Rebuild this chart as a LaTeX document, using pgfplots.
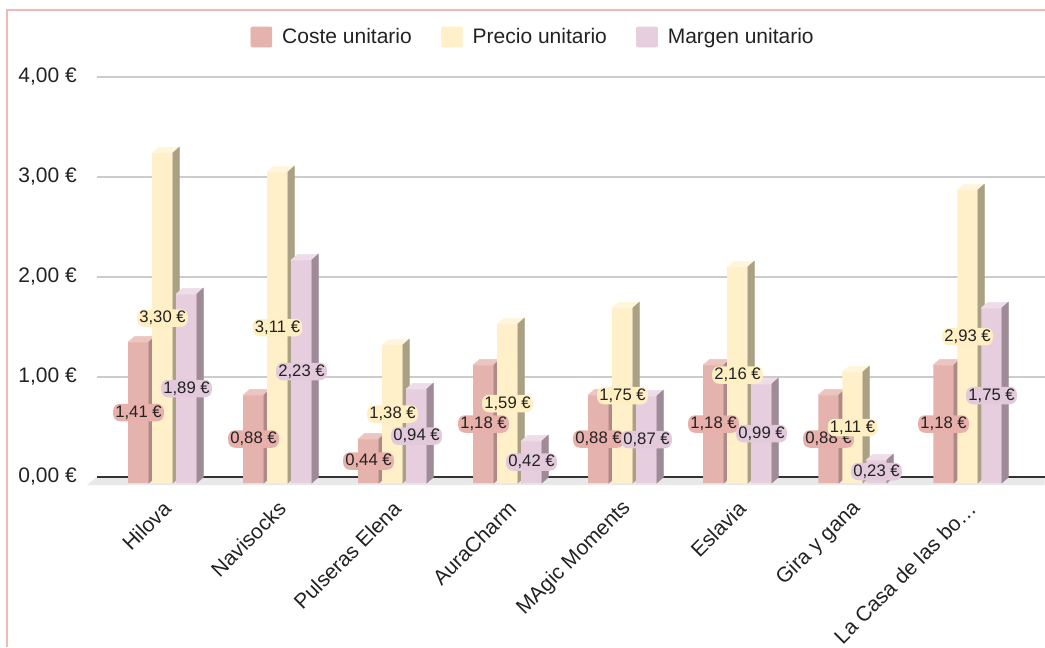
\documentclass[border=0pt]{standalone}
\usepackage{pgfplots}
\usepackage{pgfplotstable}
\pgfplotsset{compat=1.18}
\usepackage{fontspec}
\setmainfont{Liberation Sans}

% series colours: front face, side face, top face, label halo
\definecolor{costeF}{HTML}{E5B3AE}
\definecolor{costeS}{HTML}{B08986}
\definecolor{costeT}{HTML}{EDC5C0}
\definecolor{costeH}{HTML}{E8B0AB}
\definecolor{precioF}{HTML}{FFF0C9}
\definecolor{precioS}{HTML}{AAA084}
\definecolor{precioT}{HTML}{FFF5DA}
\definecolor{precioH}{HTML}{FFEFC2}
\definecolor{margenF}{HTML}{E6CEDF}
\definecolor{margenS}{HTML}{9E8B97}
\definecolor{margenT}{HTML}{EEDCE8}
\definecolor{margenH}{HTML}{E2CADC}
\definecolor{gridc}{HTML}{CCCCCC}
\definecolor{floorc}{HTML}{E8E8E8}
\definecolor{basec}{HTML}{333333}
\definecolor{framec}{HTML}{EFBAB5}
\definecolor{txt}{HTML}{222222}

\newcommand\labfont{\fontsize{12.5}{14}\selectfont}
\newcommand\bigfont{\fontsize{15.75}{18}\selectfont}

\pgfdeclareplotmark{empty}{}

\pgfplotstableread{
i c p m
0 1.41 3.30 1.89
1 0.88 3.11 2.23
2 0.44 1.38 0.94
3 1.18 1.59 0.42
4 0.88 1.75 0.87
5 1.18 2.16 0.99
6 0.88 1.11 0.23
7 1.18 2.93 1.75
}\costes

\pgfplotsset{
  % front face of a bar
  front/.style n args={2}{ybar, bar width=15.4pt, bar shift=#2, fill=#1, draw=none, forget plot},
  % side and top faces: #1 side colour, #2 top colour, #3 shift
  faces/.style n args={3}{forget plot, only marks, scatter, mark=empty,
    visualization depends on={rawy \as \val},
    scatter/@pre marker code/.code={%
      \pgfmathsetlengthmacro\hh{\val*75pt}%
      \fill[#2] ({#3-7.7pt},0pt) -- ({#3+7.7pt},0pt) -- ({#3+12.6pt},4.3pt) -- ({#3-2.8pt},4.3pt) -- cycle;
      \fill[#1] ({#3+7.7pt},0pt) -- ({#3+12.6pt},4.3pt) -- ({#3+12.6pt},{4.3pt-\hh}) -- ({#3+7.7pt},-\hh) -- cycle;
    },
    scatter/@post marker code/.code={}},
  % value labels in the middle of the front face, on a soft coloured halo
  labels/.style n args={2}{forget plot, only marks, scatter, mark=empty,
    visualization depends on={rawy \as \val},
    scatter/@pre marker code/.code={%
      \pgfmathsetlengthmacro\hh{\val*37.5pt}%
      \node[inner xsep=1.6pt, inner ysep=1.4pt, rounded corners=5pt, fill=#1,
            font=\labfont, text=txt] at (#2,-\hh)
        {\pgfmathprintnumber[fixed,fixed zerofill,precision=2,use comma,assume math mode=true]{\val}~€};
    },
    scatter/@post marker code/.code={}},
}

\begin{document}
\begin{tikzpicture}
\useasboundingbox (0,0) rectangle (783.75pt,485.25pt);
\draw[framec, line width=1.5pt] (5.25pt,0pt) -- (5.25pt,477.75pt) -- (790pt,477.75pt);
\begin{axis}[
  at={(72.75pt,115.5pt)}, anchor=south west,
  x=86.25pt, y=75pt,
  xmin=-0.5696, xmax=7.67, ymin=-0.1, ymax=4.1,
  clip=false, clip marker paths=true,
  axis line style={draw=none},
  tick style={draw=none},
  major tick length=0pt,
  ytick={0,1,2,3,4},
  ymajorgrids,
  major grid style={draw=gridc, line width=1pt, yshift=4.5pt},
  yticklabel={\pgfmathprintnumber[fixed,fixed zerofill,precision=2,use comma,assume math mode=true]{\tick}~€},
  yticklabel style={anchor=east, inner sep=0pt, xshift=-15pt, yshift=4.5pt, font=\bigfont, text=txt},
  xtick={0,...,7},
  xticklabels={Hilova, Navisocks, Pulseras Elena, AuraCharm, MAgic Moments, Eslavia, Gira y gana, La Casa de las bo…},
  xticklabel style={xshift=3.6pt, yshift=-9pt, rotate=45, anchor=east, inner sep=0pt, font=\bigfont, text=txt},
  legend columns=-1,
  legend style={at={(0.4607,1.0857)}, anchor=center, draw=none, fill=none,
    font=\bigfont, text=txt,
    /tikz/every odd column/.append style={column sep=5.5pt},
    /tikz/every even column/.append style={column sep=20pt}},
]
\addlegendimage{legend image code/.code={\fill[costeF, rounded corners=0.8pt] (0pt,-7.5pt) rectangle (15.75pt,7.5pt);}}
\addlegendentry{Coste unitario}
\addlegendimage{legend image code/.code={\fill[precioF, rounded corners=0.8pt] (0pt,-7.5pt) rectangle (15.75pt,7.5pt);}}
\addlegendentry{Precio unitario}
\addlegendimage{legend image code/.code={\fill[margenF, rounded corners=0.8pt] (0pt,-7.5pt) rectangle (15.75pt,7.5pt);}}
\addlegendentry{Margen unitario}

% floor and base line
\fill[floorc] (axis cs:-0.6565,-0.02) -- (axis cs:-0.5696,0.06) -- (axis cs:7.67,0.06) -- (axis cs:7.67,-0.02) -- cycle;
\draw[basec, line width=1.1pt] (axis cs:-0.5696,0.06) -- (axis cs:7.67,0.06);

% bars
\addplot[front={costeF}{-18pt}] table[x=i, y=c] {\costes};
\addplot[faces={costeS}{costeT}{-18pt}] table[x=i, y=c] {\costes};
\addplot[front={precioF}{0pt}] table[x=i, y=p] {\costes};
\addplot[faces={precioS}{precioT}{0pt}] table[x=i, y=p] {\costes};
\addplot[front={margenF}{18pt}] table[x=i, y=m] {\costes};
\addplot[faces={margenS}{margenT}{18pt}] table[x=i, y=m] {\costes};

% value labels
\addplot[labels={costeH}{-18pt}] table[x=i, y=c] {\costes};
\addplot[labels={precioH}{0pt}] table[x=i, y=p] {\costes};
\addplot[labels={margenH}{18pt}] table[x=i, y=m] {\costes};
\end{axis}
\end{tikzpicture}
\end{document}
